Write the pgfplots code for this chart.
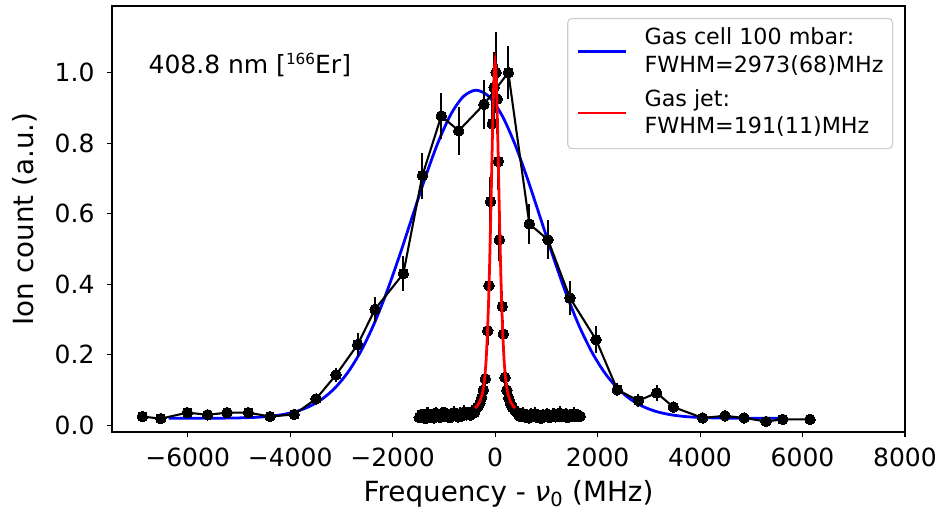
\documentclass[border=0pt]{standalone}
\usepackage{pgfplots}
\pgfplotsset{compat=1.18}
\usepackage{pgfplotstable}
\usepackage{fontspec}
\setmainfont{DejaVu Sans}

\pgfplotstableread{
x y e
-6885 0.025 0.005
-6526 0.019 0.005
-6007 0.036 0.006
-5609 0.030 0.006
-5232 0.036 0.007
-4816 0.036 0.007
-4393 0.025 0.006
-3919 0.031 0.007
-3495 0.075 0.014
-3105 0.143 0.020
-2682 0.229 0.033
-2344 0.329 0.035
-1791 0.430 0.050
-1420 0.708 0.065
-1050 0.877 0.066
-711 0.835 0.068
-217 0.910 0.070
258 1.000 0.076
668 0.571 0.057
1032 0.526 0.055
1462 0.361 0.047
1969 0.243 0.038
2385 0.101 0.019
2795 0.070 0.019
3154 0.092 0.022
3478 0.052 0.015
4051 0.021 0.006
4487 0.027 0.006
4858 0.021 0.006
5287 0.011 0.005
5613 0.017 0.005
6146 0.017 0.005
}\cell

\pgfplotstableread{
x y e
-1480 0.022 0.012
-1440 0.031 0.016
-1400 0.026 0.010
-1360 0.019 0.014
-1320 0.033 0.018
-1280 0.024 0.011
-1240 0.030 0.015
-1200 0.021 0.012
-1160 0.035 0.017
-1120 0.027 0.010
-1080 0.023 0.014
-1040 0.032 0.019
-1000 0.037 0.013
-960 0.025 0.011
-920 0.031 0.016
-880 0.022 0.012
-840 0.029 0.015
-800 0.036 0.018
-760 0.028 0.012
-720 0.024 0.014
-680 0.034 0.017
-640 0.027 0.011
-600 0.038 0.019
-560 0.030 0.013
-520 0.035 0.016
-480 0.029 0.012
-440 0.040 0.018
-400 0.037 0.014
-380 0.045 0.014
-340 0.052 0.015
-300 0.062 0.016
-265 0.078 0.017
-230 0.100 0.020
-191 0.132 0.025
-144 0.268 0.040
-119 0.396 0.050
-90 0.634 0.070
-55 0.855 0.090
-20 0.958 0.100
20 1.000 0.115
40 0.925 0.100
63 0.748 0.080
82 0.526 0.060
140 0.337 0.045
160 0.259 0.040
193 0.136 0.025
230 0.100 0.020
265 0.078 0.017
300 0.062 0.016
340 0.050 0.015
380 0.043 0.014
420 0.038 0.016
460 0.029 0.012
500 0.025 0.015
540 0.034 0.018
580 0.024 0.011
620 0.030 0.014
660 0.021 0.012
700 0.031 0.017
740 0.026 0.010
780 0.033 0.019
820 0.023 0.012
860 0.028 0.015
900 0.020 0.011
940 0.030 0.016
980 0.025 0.012
1020 0.032 0.018
1060 0.022 0.011
1100 0.027 0.014
1140 0.031 0.017
1180 0.024 0.012
1220 0.029 0.015
1260 0.035 0.019
1300 0.025 0.012
1340 0.028 0.014
1380 0.032 0.017
1420 0.022 0.011
1460 0.030 0.016
1500 0.026 0.012
1540 0.033 0.018
1580 0.025 0.013
1620 0.029 0.015
1660 0.026 0.012
}\jet

\pgfplotstableread{
x y
-6370 0.0200
-6120 0.0200
-5870 0.0201
-5620 0.0202
-5370 0.0204
-5120 0.0208
-4870 0.0216
-4620 0.0232
-4370 0.0261
-4120 0.0313
-3870 0.0399
-3620 0.0539
-3370 0.0752
-3120 0.1068
-2870 0.1509
-2620 0.2100
-2370 0.2851
-2120 0.3758
-1870 0.4791
-1620 0.5897
-1370 0.6996
-1120 0.7995
-870 0.8799
-620 0.9320
-370 0.9500
-120 0.9320
130 0.8799
380 0.7995
630 0.6996
880 0.5897
1130 0.4791
1380 0.3758
1630 0.2851
1880 0.2100
2130 0.1509
2380 0.1068
2630 0.0752
2880 0.0539
3130 0.0399
3380 0.0313
3630 0.0261
3880 0.0232
4130 0.0216
4380 0.0208
4630 0.0204
4880 0.0202
5130 0.0201
5380 0.0200
5630 0.0200
}\cellfit

\pgfplotstableread{
x y
-390 0.049
-350 0.055
-300 0.067
-250 0.089
-225 0.108
-200 0.138
-175 0.185
-150 0.257
-125 0.360
-112.5 0.424
-100 0.497
-87.5 0.577
-75 0.661
-62.5 0.749
-50 0.834
-37.5 0.911
-25 0.974
-12.5 1.015
0 1.030
12.5 1.015
25 0.974
37.5 0.911
50 0.834
62.5 0.749
75 0.661
87.5 0.577
100 0.497
112.5 0.424
125 0.360
150 0.257
175 0.185
200 0.138
225 0.108
250 0.089
300 0.067
350 0.055
390 0.049
}\jetfit

\begin{document}
\begin{tikzpicture}
\path[use as bounding box] (-80.64pt,-59.76pt) rectangle (597.6pt,311.04pt);
\begin{axis}[
  scale only axis,
  width=570.96pt, height=306.72pt,
  xmin=-7477, xmax=8000, ymin=-0.0188, ymax=1.1887,
  axis line style={line width=0.8pt, black},
  tick align=outside, major tick length=3.5pt,
  every tick/.style={black, line width=0.8pt},
  tick pos=left,
  xtick={-6000,-4000,-2000,0,2000,4000,6000,8000},
  xticklabels={−6000,−4000,−2000,0,2000,4000,6000,8000},
  ytick={0,0.2,0.4,0.6,0.8,1.0},
  yticklabels={0.0,0.2,0.4,0.6,0.8,1.0},
  ticklabel style={font=\fontsize{18}{22}\selectfont, inner sep=0pt},
  xticklabel style={anchor=base, yshift=-21.6pt},
  yticklabel style={anchor=east, xshift=-8.9pt},
  label style={font=\fontsize{20}{24}\selectfont, inner sep=0pt},
  xlabel={Frequency - {\itshape ν}\textsubscript{0} (MHz)},
  ylabel={Ion count (a.u.)},
  xlabel style={at={(axis description cs:0.5,-0.1643)}, anchor=base},
  ylabel style={at={(axis description cs:-0.0984,0.5)}, anchor=base},
  clip mode=individual,
  legend style={at={(axis description cs:0.985,0.972)}, anchor=north east,
    draw=black!20, rounded corners=3pt, line width=0.8pt, fill=white,
    inner xsep=6.5pt, inner ysep=4.6pt, row sep=0pt, column sep=12.2pt,
    font=\fontsize{16}{20}\selectfont,
    cells={anchor=base west},
    nodes={inner ysep=0pt, inner xsep=0pt, text height=14pt, text depth=6pt}},
  legend image code/.code={\draw[#1, sharp corners] (0pt,-5pt) -- (34.6pt,-5pt);},
]
\addplot[blue, line width=2pt, smooth] table[x=x,y=y] {\cellfit};
\addlegendentry{Gas cell 100 mbar:}
\addlegendimage{empty legend}
\addlegendentry[text depth=10.5pt]{FWHM=2973(68)MHz}
\addplot[forget plot, black, line width=1.5pt, mark=*, mark size=3.8pt,
  mark options={fill=black, draw=black, line width=0pt},
  error bars/.cd, y dir=both, y explicit, error mark=none,
  error bar style={line width=1.5pt, black}]
  table[x=x, y=y, y error=e] {\cell};
\addplot[forget plot, only marks, black, mark=*, mark size=3.8pt,
  mark options={fill=black, draw=black, line width=0pt},
  error bars/.cd, y dir=both, y explicit, error mark=none,
  error bar style={line width=1.5pt, black}]
  table[x=x, y=y, y error=e] {\jet};
\addplot[red, line width=2pt] table[x=x,y=y] {\jetfit};
\addlegendentry{Gas jet:}
\addlegendimage{empty legend}
\addlegendentry{FWHM=191(11)MHz}
\node[anchor=base west, inner sep=0pt, font=\fontsize{18}{22}\selectfont]
  at (axis cs:-6768,0.997) {408.8 nm [\raisebox{6.7pt}{\fontsize{11}{13}\selectfont 166}Er]};
\end{axis}
\end{tikzpicture}
\end{document}
